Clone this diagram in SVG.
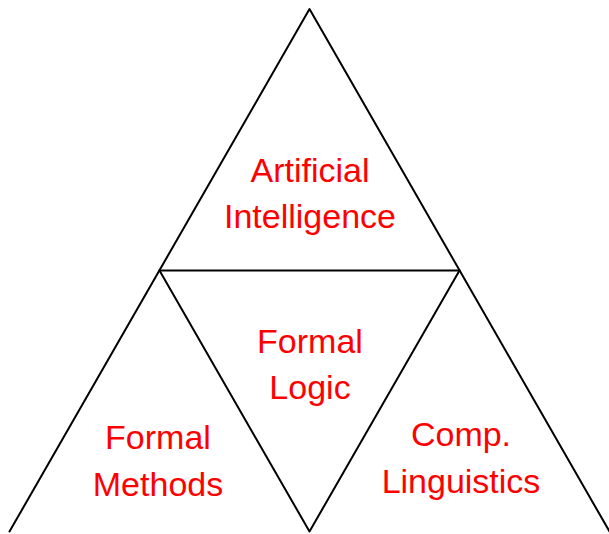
<svg xmlns="http://www.w3.org/2000/svg" width="609" height="534" viewBox="0 0 609 534">
<style>
.edge{stroke:#000;stroke-width:2;fill:none;stroke-linecap:round;stroke-linejoin:round}
.lbl{font-family:"Liberation Sans","DejaVu Sans",sans-serif;font-size:34px;fill:#ff0000;text-anchor:middle}
</style>
<rect width="609" height="534" fill="#fff"/>
<g id="connectors">
<path class="edge" d="M9.5,531.5 L309.5,9 L609.5,531.5"/>
<path class="edge" d="M159.5,270.5 L459.5,270.5"/>
<path class="edge" d="M159.5,270.5 L309.5,531.5 L459.5,270.5"/>
</g>
<g id="ai"><text class="lbl" x="310" y="182">Artificial</text><text class="lbl" x="310" y="228">Intelligence</text></g>
<g id="logic"><text class="lbl" x="310" y="353">Formal</text><text class="lbl" x="310" y="399">Logic</text></g>
<g id="methods"><text class="lbl" x="158" y="449">Formal</text><text class="lbl" x="158" y="496">Methods</text></g>
<g id="ling"><text class="lbl" x="461" y="446">Comp.</text><text class="lbl" x="461" y="493">Linguistics</text></g>
</svg>
